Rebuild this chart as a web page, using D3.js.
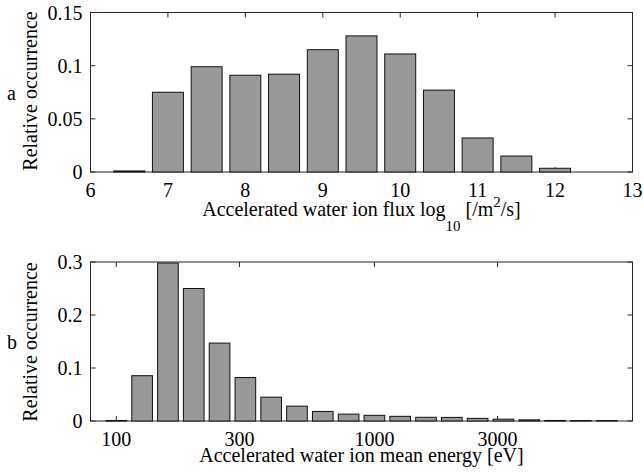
<!DOCTYPE html>
<html>
<head>
<meta charset="utf-8">
<script src="https://cdn.jsdelivr.net/npm/d3@7"></script>
<style>
  body { margin: 0; background: #fff; }
</style>
</head>
<body>
<div id="viz"></div>
<script>
const width = 644;
const height = 474;

// panel a: log10 flux histogram (bin centres and relative occurrence)
const fluxCenters = [6.5, 7, 7.5, 8, 8.5, 9, 9.5, 10, 10.5, 11, 11.5, 12];
const fluxValues = [0.001, 0.075, 0.099, 0.091, 0.092, 0.115, 0.128, 0.111, 0.077, 0.032, 0.015, 0.0035];
const fluxTicksX = [6, 7, 8, 9, 10, 11, 12, 13];
const fluxTicksY = [0, 0.05, 0.1, 0.15];

// panel b: mean energy histogram, bins in log10(eV)
const energyLogCenters = [2.0, 2.1, 2.2, 2.3, 2.4, 2.5, 2.6, 2.7, 2.8, 2.9, 3.0, 3.1, 3.2, 3.3, 3.4, 3.5, 3.6, 3.7, 3.8, 3.9];
const energyValues = [0.001, 0.0855, 0.298, 0.25, 0.147, 0.082, 0.045, 0.028, 0.018, 0.013, 0.0107, 0.0088, 0.007, 0.0068, 0.005, 0.0035, 0.0022, 0.001, 0.0008, 0.0008];
const energyTicksX = [100, 300, 1000, 3000];
const energyTicksY = [0, 0.1, 0.2, 0.3];

const serif = "'Liberation Serif', 'Times New Roman', Times, serif";

const svg = d3.select('#viz')
  .append('svg')
    .attr('width', width)
    .attr('height', height)
    .attr('font-family', serif);

const left = 90.5;
const right = 632.5;
const tickLen = 5;
const fontSize = 20;
const textColor = '#000';

// draws box, inward ticks and labels of one panel
const drawAxes = (g, scaleX, scaleY, ticksX, ticksY, fmtX, fmtY) => {
  const [y0, y1] = scaleY.range();
  const axisColor = '#262626';

  // bottom and top ticks
  g.append('g')
    .selectAll('line')
    .data(ticksX)
    .join('line')
      .attr('x1', d => scaleX(d)).attr('x2', d => scaleX(d))
      .attr('y1', y0).attr('y2', y0 - tickLen)
      .attr('stroke', axisColor);
  g.append('g')
    .selectAll('line')
    .data(ticksX)
    .join('line')
      .attr('x1', d => scaleX(d)).attr('x2', d => scaleX(d))
      .attr('y1', y1).attr('y2', y1 + tickLen)
      .attr('stroke', axisColor);
  // left and right ticks
  g.append('g')
    .selectAll('line')
    .data(ticksY)
    .join('line')
      .attr('x1', left).attr('x2', left + tickLen)
      .attr('y1', d => scaleY(d)).attr('y2', d => scaleY(d))
      .attr('stroke', axisColor);
  g.append('g')
    .selectAll('line')
    .data(ticksY)
    .join('line')
      .attr('x1', right).attr('x2', right - tickLen)
      .attr('y1', d => scaleY(d)).attr('y2', d => scaleY(d))
      .attr('stroke', axisColor);

  g.append('rect')
    .attr('x', left)
    .attr('y', y1)
    .attr('width', right - left)
    .attr('height', y0 - y1)
    .attr('fill', 'none')
    .attr('stroke', axisColor)
    .attr('stroke-width', 1);

  g.append('g')
    .selectAll('text')
    .data(ticksX)
    .join('text')
      .attr('x', d => scaleX(d))
      .attr('y', y0 + 24.5)
      .attr('text-anchor', 'middle')
      .attr('fill', textColor)
      .style('font-size', fontSize + 'px')
      .text(fmtX);

  g.append('g')
    .selectAll('text')
    .data(ticksY)
    .join('text')
      .attr('x', left - 8)
      .attr('y', d => scaleY(d) + 7)
      .attr('text-anchor', 'end')
      .attr('fill', textColor)
      .style('font-size', fontSize + 'px')
      .text(fmtY);
};

/* ---------- panel a ---------- */
const scaleXa = d3.scaleLinear().domain([6, 13]).range([left, right]);
const scaleYa = d3.scaleLinear().domain([0, 0.15]).range([172, 12.5]);
const gA = svg.append('g');
drawAxes(gA, scaleXa, scaleYa, fluxTicksX, fluxTicksY, d => d, d => d3.format('')(d));

gA.append('g')
  .selectAll('rect')
  .data(fluxCenters)
  .join('rect')
    .attr('x', d => scaleXa(d - 0.2))
    .attr('width', d => scaleXa(d + 0.2) - scaleXa(d - 0.2))
    .attr('y', (d, i) => scaleYa(fluxValues[i]))
    .attr('height', (d, i) => scaleYa(0) - scaleYa(fluxValues[i]))
    .attr('fill', '#999999')
    .attr('stroke', '#111')
    .attr('stroke-width', 1);

const labelA = gA.append('text')
  .attr('x', 361.5)
  .attr('y', 216)
  .attr('text-anchor', 'middle')
  .attr('fill', textColor)
  .style('font-size', fontSize + 'px');
labelA.append('tspan').text('Accelerated water ion flux log');
labelA.append('tspan').attr('dy', 15).style('font-size', '15px').text('10');
labelA.append('tspan').attr('dy', -15).text(' [/m');
labelA.append('tspan').attr('dy', -9).style('font-size', '15px').text('2');
labelA.append('tspan').attr('dy', 9).text('/s]');

gA.append('text')
  .attr('transform', 'translate(37,91) rotate(-90)')
  .attr('text-anchor', 'middle')
  .attr('fill', textColor)
  .style('font-size', fontSize + 'px')
  .text('Relative occurrence');

gA.append('text')
  .attr('x', 7)
  .attr('y', 99.5)
  .attr('fill', textColor)
  .style('font-size', fontSize + 'px')
  .text('a');

/* ---------- panel b ---------- */
const scaleXb = d3.scaleLog().domain([Math.pow(10, 1.9), 10000]).range([left, right]);
const scaleYb = d3.scaleLinear().domain([0, 0.3]).range([421, 262]);
const gB = svg.append('g');
drawAxes(gB, scaleXb, scaleYb, energyTicksX, energyTicksY, d => d, d => d3.format('')(d));

gB.append('g')
  .selectAll('rect')
  .data(energyLogCenters)
  .join('rect')
    .attr('x', d => scaleXb(Math.pow(10, d - 0.04)))
    .attr('width', d => scaleXb(Math.pow(10, d + 0.04)) - scaleXb(Math.pow(10, d - 0.04)))
    .attr('y', (d, i) => scaleYb(energyValues[i]))
    .attr('height', (d, i) => scaleYb(0) - scaleYb(energyValues[i]))
    .attr('fill', '#999999')
    .attr('stroke', '#111')
    .attr('stroke-width', 1);

gB.append('text')
  .attr('x', 361.5)
  .attr('y', 462)
  .attr('text-anchor', 'middle')
  .attr('fill', textColor)
  .style('font-size', fontSize + 'px')
  .text('Accelerated water ion mean energy [eV]');

gB.append('text')
  .attr('transform', 'translate(37,342) rotate(-90)')
  .attr('text-anchor', 'middle')
  .attr('fill', textColor)
  .style('font-size', fontSize + 'px')
  .text('Relative occurrence');

gB.append('text')
  .attr('x', 7)
  .attr('y', 348.5)
  .attr('fill', textColor)
  .style('font-size', fontSize + 'px')
  .text('b');
</script>
</body>
</html>
